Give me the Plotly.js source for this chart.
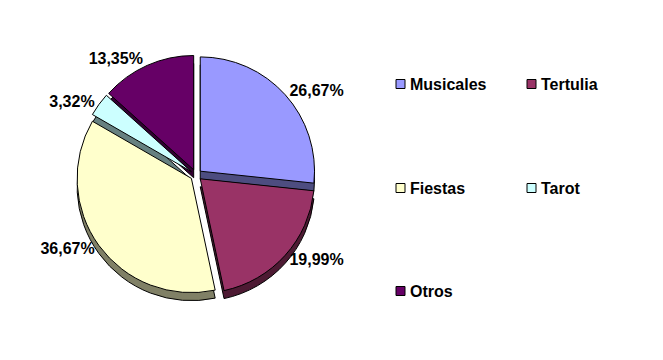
<!DOCTYPE html>
<html>
<head>
<meta charset="utf-8">
<script src="https://cdn.plot.ly/plotly-3.0.1.min.js"></script>
<style>html,body{margin:0;padding:0;background:#fff}#chart{width:663px;height:360px}</style>
</head>
<body>
<div id="chart"></div>
<script>
const categories = ["Musicales", "Tertulia", "Fiestas", "Tarot", "Otros"];
const values = [26.67, 19.99, 36.67, 3.32, 13.35];
const colors = ["#9999FF", "#993366", "#FFFFCC", "#CCFFFF", "#660066"];
const sideColors = ["#4D4D80", "#4D1A33", "#808066", "#668080", "#330033"];
const pulls = [0.05, 0.05, 0.05, 0.05, 0.05];

const cx = 196, cy = 175, R = 120, depth = 8, W = 663, H = 360;
const FONT = "Liberation Sans, Arial, sans-serif";
const dom = (dy) => ({
  x: [(cx - R) / W, (cx + R) / W],
  y: [1 - (cy + dy + R) / H, 1 - (cy + dy - R) / H]
});

const base = {
  type: "pie", labels: categories, values: values, sort: false,
  direction: "clockwise", rotation: 0, pull: pulls, showlegend: false,
  hoverinfo: "none"
};

const sideTrace = Object.assign({}, base, {
  domain: dom(depth),
  marker: {colors: sideColors, line: {color: "#000", width: 1}},
  textinfo: "none"
});
const topTrace = Object.assign({}, base, {
  domain: dom(0),
  marker: {colors: colors, line: {color: "#000", width: 1}},
  texttemplate: "%{percent:.2%}",
  textposition: "outside",
  outsidetextfont: {family: FONT, size: 16, color: "#000", weight: "bold"}
});

const legendCols = [396, 527];
const legendRows = [84, 188, 291];
const shapes = [], annotations = [];
categories.forEach((c, i) => {
  const lx = legendCols[i % 2], ly = legendRows[Math.floor(i / 2)];
  shapes.push({type: "rect", xref: "paper", yref: "paper",
    x0: lx / W, x1: (lx + 9) / W, y0: 1 - (ly + 4.5) / H, y1: 1 - (ly - 4.5) / H,
    fillcolor: colors[i], line: {color: "#000", width: 1}});
  annotations.push({xref: "paper", yref: "paper", x: (lx + 12) / W, y: 1 - ly / H,
    xanchor: "left", yanchor: "middle", showarrow: false, text: c,
    font: {family: FONT, size: 16, color: "#000", weight: "bold"}});
});

Plotly.newPlot("chart", [sideTrace, topTrace], {
  width: W, height: H, margin: {l: 0, r: 0, t: 0, b: 0},
  paper_bgcolor: "#fff", separators: ",.", showlegend: false,
  shapes: shapes, annotations: annotations
}, {staticPlot: true});
</script>
</body>
</html>
